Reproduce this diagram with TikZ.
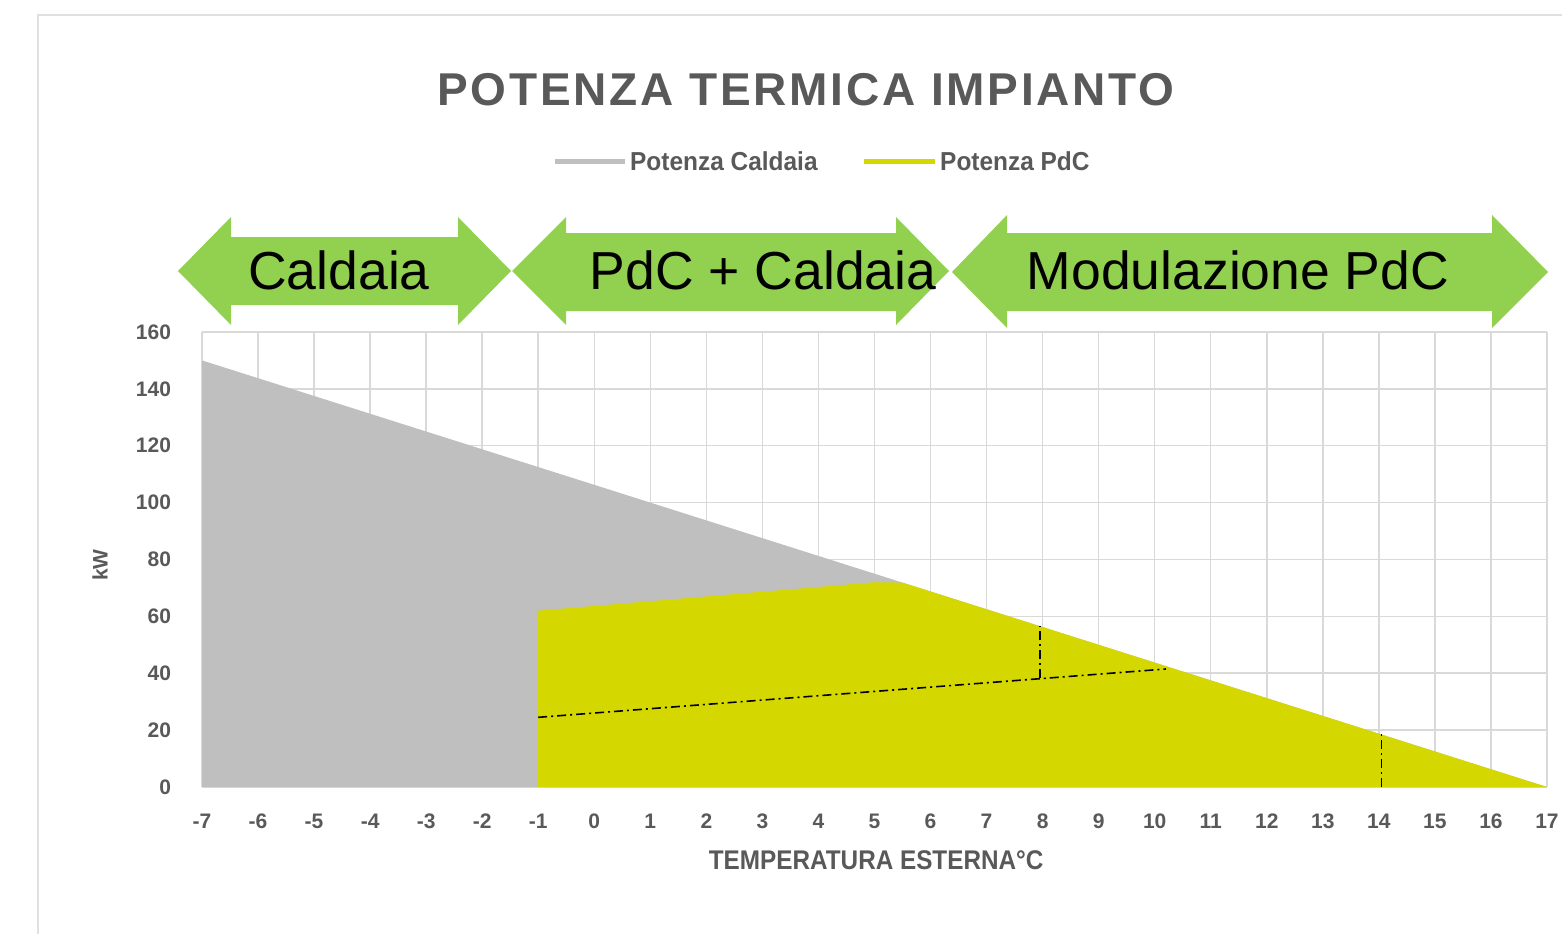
\documentclass[tikz,border=0pt]{standalone}
\usepackage{fontspec}
\setmainfont{Liberation Sans}
\newfontfamily\titlefont[LetterSpace=6]{Liberation Sans}
\definecolor{gridgray}{RGB}{217,217,217}
\definecolor{framegray}{RGB}{224,224,224}
\definecolor{boilergray}{RGB}{191,191,191}
\definecolor{hpyellow}{RGB}{212,216,0}
\definecolor{bandgreen}{RGB}{146,208,80}
\definecolor{labelgray}{RGB}{89,89,89}
\begin{document}
\begin{tikzpicture}[x=1pt,y=1pt]
\tikzstyle{every node}+=[inner sep=0pt]
\tikzstyle{ticklabel}=[font=\fontsize{21}{21}\selectfont\bfseries, text=labelgray]
\tikzstyle{legendlabel}=[font=\fontsize{26}{26}\selectfont\bfseries, text=labelgray, anchor=west, xscale=0.94]
\tikzstyle{bandlabel}=[font=\fontsize{53.5}{53.5}\selectfont, text=black]
\tikzstyle{guide}=[line width=1.6, dash pattern=on 9pt off 4pt on 2pt off 4pt]
\useasboundingbox (0,0) rectangle (1562,-934);
% frame of the chart
\draw[framegray, line width=2] (38,-934) -- (38,-15) -- (1562,-15);
% title and legend
\node[font=\titlefont\fontsize{46}{46}\selectfont\bfseries, text=labelgray] (title) at (806,-90) {POTENZA TERMICA IMPIANTO};
\draw[boilergray, line width=5] (555,-161) -- (625,-161);
\node[legendlabel] (legboiler) at (630,-161) {Potenza Caldaia};
\draw[hpyellow, line width=5] (864,-161) -- (935,-161);
\node[legendlabel] (leghp) at (940,-161) {Potenza PdC};
% green bands
\fill[bandgreen] (178,-271) -- (231,-217) -- (231,-237) -- (458,-237) -- (458,-217) -- (511,-271)
  -- (458,-325) -- (458,-305) -- (231,-305) -- (231,-325) -- cycle;
\node[bandlabel] (boiler) at (339,-270) {Caldaia};
\fill[bandgreen] (512,-271) -- (566,-217) -- (566,-233) -- (896,-233) -- (896,-217) -- (949,-271)
  -- (896,-325) -- (896,-311) -- (566,-311) -- (566,-325) -- cycle;
\node[bandlabel] (hybrid) at (763,-270) {PdC + Caldaia};
\fill[bandgreen] (952,-272) -- (1007,-215) -- (1007,-233) -- (1492,-233) -- (1492,-215) -- (1548,-272)
  -- (1492,-328) -- (1492,-311) -- (1007,-311) -- (1007,-328) -- cycle;
\node[bandlabel] (modul) at (1238,-270) {Modulazione PdC};
% plot, in degrees and kW
\begin{scope}[shift={(594.28pt,-787pt)}, x=56.04pt, y=2.844pt]
\foreach \t in {-7,...,17}
  \draw[gridgray, line width=1.5] (\t,0) -- (\t,160);
\foreach \v in {0,20,...,160}
  \draw[gridgray, line width=1.5] (-7,\v) -- (17,\v);
\fill[boilergray] (-7,0) -- (-7,150) -- (17,0) -- cycle;
\fill[hpyellow] (-1,0) -- (-1,62) -- (5,72) -- (5.5,71.875) -- (17,0) -- cycle;
\coordinate (copa) at (-1,24.5);
\coordinate (copb) at (10.2,41.5);
\coordinate (bivb) at (7.95,38.2);
\coordinate (bivt) at (7.95,56.5);
\coordinate (endb) at (14.05,0);
\coordinate (endt) at (14.05,19);
\draw[guide] (copa) -- (copb);
\draw[guide] (bivb) -- (bivt);
\draw[guide] (endb) -- (endt);
\foreach \t in {-7,...,17}
  \node[ticklabel] (xt\t) at (\t,-12) {\t};
\foreach \v in {0,20,...,160}
  \node[ticklabel, anchor=east] (yt\v) at (-7.55,\v) {\v};
\node[ticklabel, rotate=90] (ylab) at (-8.82,78) {kW};
\node[font=\fontsize{27}{27}\selectfont\bfseries, text=labelgray, xscale=0.9] (xlab) at (5.03,-25.7) {TEMPERATURA ESTERNA°C};
\end{scope}
\end{tikzpicture}
\end{document}
